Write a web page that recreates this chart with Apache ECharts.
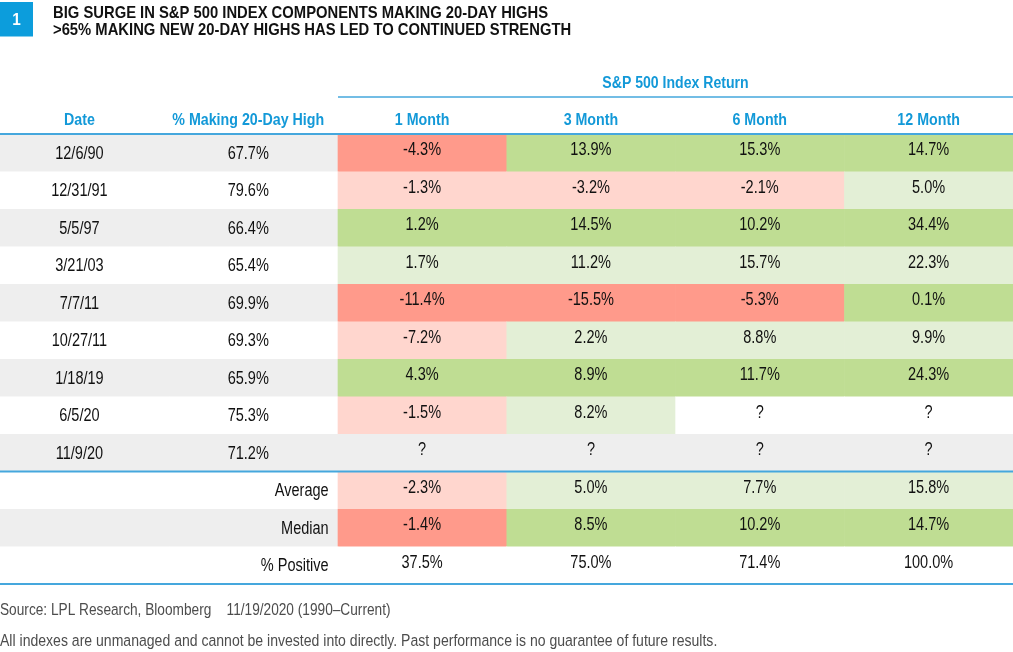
<!DOCTYPE html>
<html>
<head>
<meta charset="utf-8">
<script src="https://cdn.jsdelivr.net/npm/echarts@6/dist/echarts.min.js"></script>
<style>
  html, body { margin: 0; padding: 0; background: #ffffff; }
  #chart { width: 1013px; height: 652px; }
</style>
</head>
<body>
<div id="chart"></div>
<script>
// ---- data ----
const columnHeaders = ['Date', '% Making 20-Day High', '1 Month', '3 Month', '6 Month', '12 Month'];
const dates = ['12/6/90', '12/31/91', '5/5/97', '3/21/03', '7/7/11', '10/27/11', '1/18/19', '6/5/20', '11/9/20'];
const pctMaking = [67.7, 79.6, 66.4, 65.4, 69.9, 69.3, 65.9, 75.3, 71.2];
const ret1M = [-4.3, -1.3, 1.2, 1.7, -11.4, -7.2, 4.3, -1.5, null];
const ret3M = [13.9, -3.2, 14.5, 11.2, -15.5, 2.2, 8.9, 8.2, null];
const ret6M = [15.3, -2.1, 10.2, 15.7, -5.3, 8.8, 11.7, null, null];
const ret12M = [14.7, 5.0, 34.4, 22.3, 0.1, 9.9, 24.3, null, null];
const summaryLabels = ['Average', 'Median', '% Positive'];
const averageRow = [-2.3, 5.0, 7.7, 15.8];
const medianRow = [-1.4, 8.5, 10.2, 14.7];
const positiveRow = [37.5, 75.0, 71.4, 100.0];

// ---- styles ----
const FONT = "'Liberation Sans', Arial, sans-serif";
const BLUE = '#1399d8';
const LINE_BLUE = '#45a7dd';
const GRAY = '#eeeeee';
const RED_DARK = '#ff9a8b';
const RED_LIGHT = '#ffd6ce';
const GREEN_DARK = '#bfdd93';
const GREEN_LIGHT = '#e3efd6';
const CELL_FONT = '17.5px ' + FONT;
const CELL_SCALE = 0.83;

const rowNames = ['header'].concat(dates, summaryLabels);
const returnCols = [ret1M, ret3M, ret6M, ret12M];
const summaryRows = [averageRow, medianRow, positiveRow];
const fmt = v => (v === null ? '?' : v.toFixed(1) + '%');
const shade = (v, stripe) => v < 0 ? (stripe ? RED_DARK : RED_LIGHT) : (stripe ? GREEN_DARK : GREEN_LIGHT);

// build cell list from the named arrays
const cells = [];
rowNames.forEach((name, r) => {
  for (let c = 0; c < 6; c++) {
    const cell = { col: c, row: r, text: '', fill: null, align: 'center', dx: 0, dy: 0,
                   font: CELL_FONT, color: '#111111', scale: CELL_SCALE };
    if (r === 0) {
      cell.text = columnHeaders[c];
      cell.font = 'bold 16px ' + FONT; cell.color = BLUE; cell.scale = 0.89; cell.dy = 5;
      if (c < 2) cell.dx = -5;
    } else {
      const stripe = (r - 1) % 2 === 0;
      cell.fill = stripe ? GRAY : '#ffffff';
      const di = r - 1;
      if (di < dates.length) {
        if (c === 0) { cell.text = dates[di]; cell.dx = -5; cell.dy = 1; }
        else if (c === 1) { cell.text = pctMaking[di].toFixed(1) + '%'; cell.dx = -5; cell.dy = 1; }
        else {
          const v = returnCols[c - 2][di];
          cell.text = fmt(v); cell.dy = -2.5;
          if (v !== null) cell.fill = shade(v, stripe);
        }
      } else {
        const si = di - dates.length;
        if (c === 1) { cell.text = summaryLabels[si]; cell.align = 'right'; cell.dy = 1; }
        else if (c >= 2) {
          const v = summaryRows[si][c - 2];
          cell.text = v.toFixed(1) + '%'; cell.dy = -2.5;
          if (si < 2) cell.fill = shade(v, stripe);
        }
      }
    }
    cells.push(cell);
  }
});

const chart = echarts.init(document.getElementById('chart'), null, { renderer: 'canvas' });

const option = {
  backgroundColor: '#ffffff',
  animation: false,
  grid: { left: 0, right: 0, top: 96.5, bottom: 68, containLabel: false },
  xAxis: { type: 'category', data: columnHeaders, show: false },
  yAxis: { type: 'category', inverse: true, data: rowNames, show: false },
  series: [{
    type: 'custom',
    coordinateSystem: 'cartesian2d',
    data: cells.map((c, i) => [c.col, c.row, i]),
    encode: { x: 0, y: 1 },
    renderItem: function (params, api) {
      const cell = cells[params.dataIndex];
      const p = api.coord([api.value(0), api.value(1)]);
      const s = api.size([1, 1]);
      const x0 = p[0] - s[0] / 2, y0 = p[1] - s[1] / 2;
      let tx = p[0] + cell.dx;
      if (cell.align === 'right') tx = x0 + s[0] - 9;
      const children = [];
      if (cell.fill) {
        children.push({ type: 'rect', shape: { x: x0, y: y0, width: s[0] + 0.6, height: s[1] + 0.6 },
          style: { fill: cell.fill }, silent: true });
      }
      children.push({ type: 'text', x: tx, y: p[1] + cell.dy, scaleX: cell.scale, silent: true,
        style: { x: 0, y: 0, text: cell.text, textAlign: cell.align, textVerticalAlign: 'middle',
          font: cell.font, fill: cell.color } });
      return { type: 'group', children };
    }
  }],
  graphic: [
    { type: 'rect', shape: { x: 0, y: 2, width: 33, height: 34.5 }, style: { fill: '#0c9ddc' } },
    { type: 'text', x: 16.5, y: 20, scaleX: 0.9,
      style: { x: 0, y: 0, text: '1', textAlign: 'center', textVerticalAlign: 'middle',
        font: 'bold 17px ' + FONT, fill: '#ffffff' } },
    { type: 'text', x: 53, y: 13.5, scaleX: 0.87,
      style: { x: 0, y: 0, text: 'BIG SURGE IN S&P 500 INDEX COMPONENTS MAKING 20-DAY HIGHS',
        textVerticalAlign: 'middle', font: 'bold 17px ' + FONT, fill: '#111111' } },
    { type: 'text', x: 53, y: 30.5, scaleX: 0.87,
      style: { x: 0, y: 0, text: '>65% MAKING NEW 20-DAY HIGHS HAS LED TO CONTINUED STRENGTH',
        textVerticalAlign: 'middle', font: 'bold 17px ' + FONT, fill: '#111111' } },
    { type: 'text', x: 675.5, y: 83.5, scaleX: 0.88,
      style: { x: 0, y: 0, text: 'S&P 500 Index Return', textAlign: 'center',
        textVerticalAlign: 'middle', font: 'bold 16px ' + FONT, fill: BLUE } },
    { type: 'line', shape: { x1: 338, y1: 97, x2: 1013, y2: 97 }, style: { stroke: LINE_BLUE, lineWidth: 1.5 }, z: 100 },
    { type: 'line', shape: { x1: 0, y1: 134, x2: 1013, y2: 134 }, style: { stroke: LINE_BLUE, lineWidth: 2 }, z: 100 },
    { type: 'line', shape: { x1: 0, y1: 471.5, x2: 1013, y2: 471.5 }, style: { stroke: LINE_BLUE, lineWidth: 2 }, z: 100 },
    { type: 'line', shape: { x1: 0, y1: 584, x2: 1013, y2: 584 }, style: { stroke: LINE_BLUE, lineWidth: 2 }, z: 100 },
    { type: 'text', x: 0, y: 610.5, scaleX: 0.815,
      style: { x: 0, y: 0, text: 'Source: LPL Research, Bloomberg    11/19/2020 (1990\u2013Current)',
        textVerticalAlign: 'middle', font: '16.8px ' + FONT, fill: '#4d4d4d' } },
    { type: 'text', x: 0, y: 641.5, scaleX: 0.837,
      style: { x: 0, y: 0, text: 'All indexes are unmanaged and cannot be invested into directly. Past performance is no guarantee of future results.',
        textVerticalAlign: 'middle', font: '16.8px ' + FONT, fill: '#4d4d4d' } }
  ]
};
chart.setOption(option);
</script>
</body>
</html>
